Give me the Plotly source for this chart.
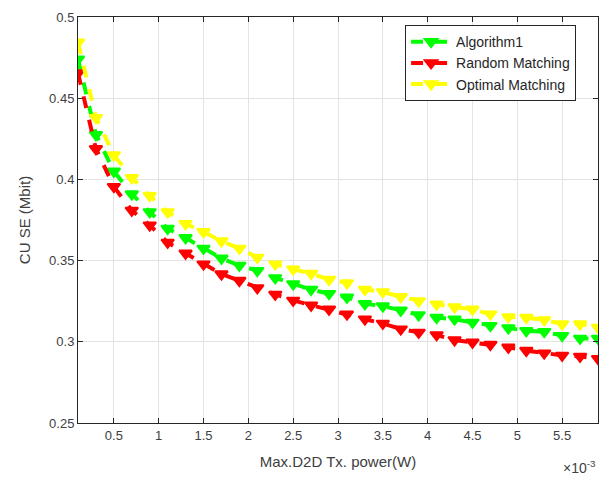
import plotly.graph_objects as go

# Max D2D Tx power, in units of 1e-3 W
x_power = [0.1, 0.3, 0.5, 0.7, 0.9, 1.1, 1.3, 1.5, 1.7, 1.9,
           2.1, 2.3, 2.5, 2.7, 2.9, 3.1, 3.3, 3.5, 3.7, 3.9,
           4.1, 4.3, 4.5, 4.7, 4.9, 5.1, 5.3, 5.5, 5.7, 5.9]

algorithm1 = [0.474, 0.4275, 0.405, 0.391, 0.380, 0.3697, 0.364, 0.3575, 0.3514, 0.347,
              0.3438, 0.3393, 0.3356, 0.3322, 0.3296, 0.3274, 0.3234, 0.322, 0.3194, 0.3165,
              0.3149, 0.3139, 0.3119, 0.3099, 0.3085, 0.3068, 0.3062, 0.3038, 0.3021, 0.3021]

random_matching = [0.4655, 0.4188, 0.3955, 0.3809, 0.3718, 0.3612, 0.3545, 0.3478, 0.3417, 0.3377,
                   0.3332, 0.3292, 0.3255, 0.3225, 0.3200, 0.3170, 0.3139, 0.3113, 0.3078, 0.3058,
                   0.3042, 0.3011, 0.2997, 0.2983, 0.2966, 0.2946, 0.2930, 0.2916, 0.2910, 0.2896]

optimal_matching = [0.4844, 0.438, 0.415, 0.401, 0.390, 0.3799, 0.3727, 0.3677, 0.362, 0.3575,
                    0.3519, 0.3478, 0.3447, 0.342, 0.3383, 0.3362, 0.3322, 0.3307, 0.3277, 0.3251,
                    0.3231, 0.3214, 0.3200, 0.3170, 0.3153, 0.3149, 0.3135, 0.3109, 0.3109, 0.3088]

series = [
    ("Algorithm1", algorithm1, "#00ff00"),
    ("Random Matching", random_matching, "#ff0000"),
    ("Optimal Matching", optimal_matching, "#ffff00"),
]

FONT = "Liberation Sans, Arial"

fig = go.Figure()
for name, vals, col in series:
    fig.add_trace(go.Scatter(
        x=x_power, y=vals, name=name, mode="lines+markers",
        line=dict(color=col, width=4, dash="dash"),
        marker=dict(symbol="triangle-down", size=11, color=col,
                    line=dict(color=col, width=2)),
    ))

axis_common = dict(
    showline=True, linecolor="#262626", linewidth=1, mirror="ticks",
    ticks="inside", ticklen=5, tickcolor="#262626",
    showgrid=True, gridcolor="#e3e3e3", gridwidth=1,
    zeroline=False,
    tickfont=dict(family=FONT, size=13, color="#404040"),
)

fig.update_layout(
    width=609, height=479,
    margin=dict(l=78, r=10, t=13, b=56),
    paper_bgcolor="white", plot_bgcolor="white",
    xaxis=dict(range=[0.1, 5.9], dtick=0.5, tick0=0.5,
               title=dict(text="Max.D2D Tx. power(W)", standoff=14,
                          font=dict(family=FONT, size=15, color="#404040")),
               **axis_common),
    yaxis=dict(range=[0.25, 0.5], dtick=0.05, tick0=0.25,
               title=dict(text="CU SE (Mbit)", standoff=14,
                          font=dict(family=FONT, size=15, color="#404040")),
               **axis_common),
    legend=dict(x=0.629, y=0.98, xanchor="left", yanchor="top",
                bgcolor="white", bordercolor="#262626", borderwidth=1,
                font=dict(family=FONT, size=14, color="#262626"),
                tracegroupgap=0, itemwidth=40),
    showlegend=True,
)

fig.add_annotation(
    x=1.0, y=-0.108, xref="paper", yref="paper", xanchor="right", yanchor="middle",
    text="×10<sup>-3</sup>", showarrow=False,
    font=dict(family=FONT, size=14, color="#404040"),
)

fig.write_html("out.html")
